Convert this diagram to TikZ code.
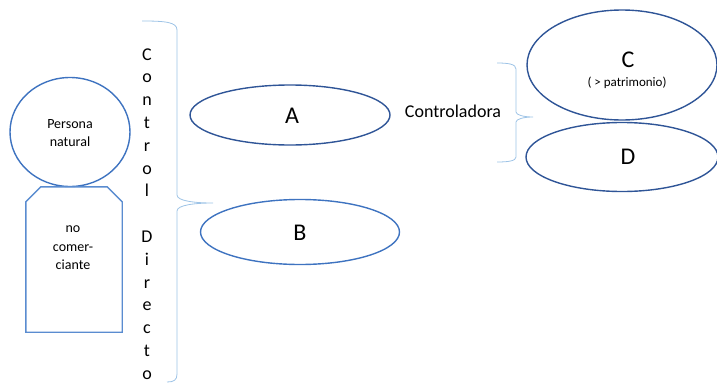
\documentclass[tikz,border=0pt]{standalone}
\usepackage{fontspec}
\setmainfont{Carlito}
\usetikzlibrary{shapes.geometric}

\definecolor{darkline}{HTML}{2F5597}
\definecolor{midline}{HTML}{3E73C0}
\definecolor{boxline}{HTML}{5A8CD0}
\definecolor{braceline}{HTML}{9DC3E6}

\tikzset{
  entity/.style={ellipse, draw=darkline, line width=1.4pt, inner sep=0pt},
  bracket/.style={draw=braceline, line width=0.8pt}
}

\begin{document}
\begin{tikzpicture}[x=1pt,y=-1pt]
      \useasboundingbox (0,0) rectangle (717,383);

      % persona natural / no comerciante
      \node[entity, draw=midline, minimum width=120pt, minimum height=109pt] (persona) at (70,132) {};
      \node[font=\fontsize{14}{18}\selectfont, align=center] (personatxt) at (70,133) {Persona\\natural};
      \node[minimum width=96pt, minimum height=145pt, inner sep=0pt] (nocom) at (74,259.5) {};
      \draw[draw=boxline, line width=1.4pt]
        ([xshift=15pt]nocom.north west) -- ([xshift=-15pt]nocom.north east)
        -- ([yshift=-15pt]nocom.north east) -- (nocom.south east)
        -- (nocom.south west) -- ([yshift=-15pt]nocom.north west) -- cycle;
      \node[font=\fontsize{14}{18.5}\selectfont, align=center] (nocomtxt) at (73,248) {no\\comer-\\ciante};

      % control directo
      \node[font=\fontsize{18}{22.8}\selectfont, align=center] (control) at (147,214)
        {C\\o\\n\\t\\r\\o\\l\\[22.8pt]D\\i\\r\\e\\c\\t\\o};
      \draw[bracket] (142,21) .. controls (165,21) and (177,22) .. (177,30)
        -- (177,195) .. controls (177,201) and (195,203) .. (213,203)
        .. controls (195,203) and (177,205) .. (177,211)
        -- (177,374) .. controls (177,380) and (174,382) .. (167,382);

      % sociedades
      \begin{scope}[every node/.style={font=\fontsize{24}{28}\selectfont}]
        \node[entity, minimum width=200pt, minimum height=60pt] (A) at (290,115) {};
        \node[entity, draw=midline, minimum width=199pt, minimum height=65pt] (B) at (300,232) {};
        \node[entity, minimum width=190pt, minimum height=110pt] (C) at (622,65) {};
        \node[entity, minimum width=192pt, minimum height=69pt] (D) at (622,157) {};
        \node (Atxt) at (292,116) {A};
        \node (Btxt) at (300,233) {B};
        \node (Ctxt) at (628,60) {C};
        \node (Dtxt) at (628,157) {D};
      \end{scope}
      \node[font=\fontsize{13}{16}\selectfont] (patrimonio) at (627,83) {( > patrimonio)};

      % controladora
      \node[font=\fontsize{18}{22}\selectfont] (controladora) at (453,111) {Controladora};
      \draw[bracket] (497,63) .. controls (508,63) and (516,64) .. (516,69)
        -- (516,112) .. controls (516,115) and (524,117) .. (533,117)
        .. controls (524,117) and (516,119) .. (516,122)
        -- (516,157) .. controls (516,161) and (508,162) .. (497,162);

    \end{tikzpicture}
\end{document}
